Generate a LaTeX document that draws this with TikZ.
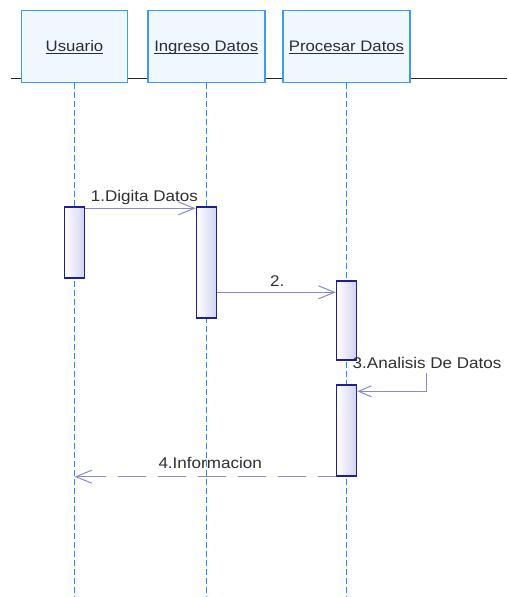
\documentclass[tikz,border=0pt]{standalone}
\usepackage{fontspec}
\setmainfont[FakeStretch=1.1]{Liberation Sans}
\usetikzlibrary{arrows.meta}

\definecolor{hdrfill}{HTML}{F0F8FF}
\definecolor{hdrline}{HTML}{3D9BF5}
\definecolor{lifeline}{HTML}{1E8CFF}
\definecolor{actline}{HTML}{1F1F8F}
\definecolor{actfill}{HTML}{D2D2F6}
\definecolor{msgline}{HTML}{8A8AC6}
\definecolor{hdrtext}{HTML}{2E2A3A}
\definecolor{msgtext}{HTML}{303030}

% underlined object name with a fixed rule position
\newcommand\objname[1]{\setbox0\hbox{#1}\rlap{\rule[-2.2pt]{\wd0}{1pt}}\box0}

\tikzset{
  objbox/.style={draw=hdrline, fill=hdrfill, line width=1.4pt,
    minimum height=72pt, inner sep=0pt, text=hdrtext,
    font=\fontsize{15.2}{18}\selectfont, text height=13pt, text depth=3pt},
  lifel/.style={draw=lifeline, line width=1.6pt, dash pattern=on 5.5pt off 3.5pt},
  actbox/.style={draw=actline, line width=1.4pt, left color=white, right color=actfill,
    minimum width=20pt, inner sep=0pt},
  msg/.style={draw=msgline, line width=1.2pt, -{Straight Barb[length=16pt,width=13pt,line width=1pt]}},
  selfmsg/.style={msg, -{Straight Barb[length=13pt,width=11pt,line width=1pt]}},
  msglabel/.style={text=msgtext, font=\fontsize{15.5}{18}\selectfont, inner sep=0pt},
}

\begin{document}
\begin{tikzpicture}[x=1pt, y=-1pt]
  \useasboundingbox (0,0) rectangle (507,597);
  \fill[white] (0,0) rectangle (507,597);

  % separator line behind the object boxes
  \coordinate (hl1) at (11,78.7);
  \coordinate (hl2) at (507,78.7);
  \draw[black!85, line width=1.5pt] (hl1) -- (hl2);

  % objects
  \node[objbox, minimum width=106pt] (u) at (74.5,46.5) {\objname{Usuario}};
  \node[objbox, minimum width=117pt] (i) at (206.3,46.5) {\objname{Ingreso Datos}};
  \node[objbox, minimum width=127pt] (p) at (346.5,46.5) {\objname{Procesar Datos}};

  % lifelines
  \coordinate (uend) at (74.5,597);
  \coordinate (iend) at (206.3,597);
  \coordinate (pend) at (346.5,597);
  \draw[lifel] (u.south) -- (uend);
  \draw[lifel] (i.south) -- (iend);
  \draw[lifel] (p.south) -- (pend);

  % activations
  \node[actbox, minimum height=71pt] (ua) at (74.5,242.5) {};
  \node[actbox, minimum height=111pt] (ia) at (206.3,262.5) {};
  \node[actbox, minimum height=79pt] (pa1) at (346.5,320.5) {};
  \node[actbox, minimum height=91pt] (pa2) at (346.5,430.5) {};

  % 1. Digita Datos
  \draw[msg] ([yshift=-2pt]ua.north east) -- ([yshift=-2pt]ua.north east -| ia.west);
  \node[msglabel, anchor=base west] (m1) at (90.7,201) {1.Digita Datos};

  % 2.
  \draw[msg] ([yshift=-12pt]pa1.north west -| ia.east) -- ([yshift=-12pt]pa1.north west);
  \node[msglabel, anchor=base west] (m2) at (270,286) {2.};

  % 3. self call
  \coordinate (s3) at (426.5,372.5);
  \draw[selfmsg] (s3) |- ([yshift=-7pt]pa2.north east);
  \node[msglabel, anchor=base west] (m3) at (352.5,368) {3.Analisis De Datos};

  % 4. return
  \draw[msg, dash pattern=on 28pt off 12pt, dash phase=10pt]
    (pa2.south west) -- (pa2.south west -| u.south);
  \node[msglabel, anchor=base west] (m4) at (158.3,468) {4.Informacion};
\end{tikzpicture}
\end{document}
